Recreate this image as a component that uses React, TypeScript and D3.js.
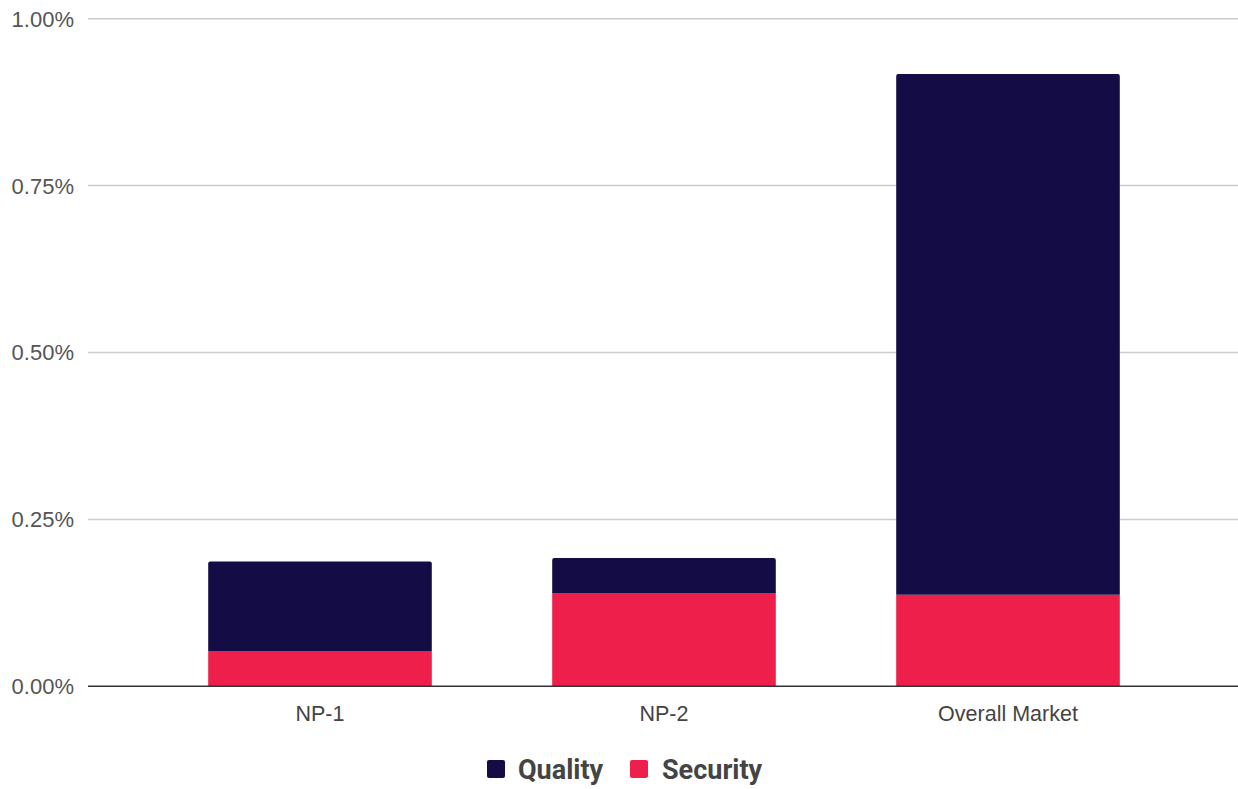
import React from "react";
import * as d3 from "d3";

const categories = ["NP-1", "NP-2", "Overall Market"];
const security = [0.053, 0.139, 0.137];
const quality = [0.134, 0.053, 0.78];
const yTicks = [0, 0.25, 0.5, 0.75, 1.0];
const seriesNames = ["Quality", "Security"];
const seriesColors = ["#140d45", "#ef1f4b"];

const W = 1238;
const H = 789;

export default function App() {
  const y = d3.scaleLinear().domain([0, 1]).range([686.3, 18.7]);
  const x = d3.scaleBand().domain(categories).range([148, 1180]).paddingInner(0.35).paddingOuter(0.175);
  const gridX0 = 88;
  const axisFont = "'Liberation Sans', Arial, sans-serif";
  const legendFont = "Roboto, 'Open Sans', sans-serif";
  const bw = x.bandwidth();

  const topPath = (x0: number, w: number, yTop: number, yBot: number, r: number) =>
    `M${x0},${yBot} L${x0},${yTop + r} Q${x0},${yTop} ${x0 + r},${yTop} L${x0 + w - r},${yTop} Q${x0 + w},${yTop} ${x0 + w},${yTop + r} L${x0 + w},${yBot} Z`;

  return (
    <svg width={W} height={H} style={{ position: "absolute", left: 0, top: 0 }} fontFamily={axisFont}>
      <rect width={W} height={H} fill="#fff" />
      {yTicks.map((t) => (
        <g key={t}>
          {t !== 0 && (
            <line x1={gridX0} x2={W} y1={y(t)} y2={y(t)} stroke="#cccccc" strokeWidth={1.5} />
          )}
          <text x={74} y={y(t)} dy="0.36em" textAnchor="end" fontSize={22} fill="#555">
            {t.toFixed(2) + "%"}
          </text>
        </g>
      ))}
      {categories.map((c, i) => {
        const x0 = x(c)!;
        const s = security[i];
        const q = quality[i];
        return (
          <g key={c}>
            <rect x={x0} y={y(s)} width={bw} height={y(0) - y(s)} fill={seriesColors[1]} />
            <path d={topPath(x0, bw, y(s + q), y(s), 2)} fill={seriesColors[0]} />
            <text x={x0 + bw / 2} y={713} dy="0.36em" textAnchor="middle" fontSize={21.5} fill="#444">
              {c}
            </text>
          </g>
        );
      })}
      <line x1={gridX0} x2={W} y1={y(0)} y2={y(0)} stroke="#333" strokeWidth={1.5} />
      <g fontFamily={legendFont}>
        <rect x={487} y={760} width={18} height={18} rx={2} fill={seriesColors[0]} />
        <text x={518} y={770} dy="0.35em" fontSize={27} fontWeight="bold" fill="#444">
          {seriesNames[0]}
        </text>
        <rect x={630} y={760} width={18} height={18} rx={2} fill={seriesColors[1]} />
        <text x={662} y={770} dy="0.35em" fontSize={27} fontWeight="bold" fill="#444">
          {seriesNames[1]}
        </text>
      </g>
    </svg>
  );
}
